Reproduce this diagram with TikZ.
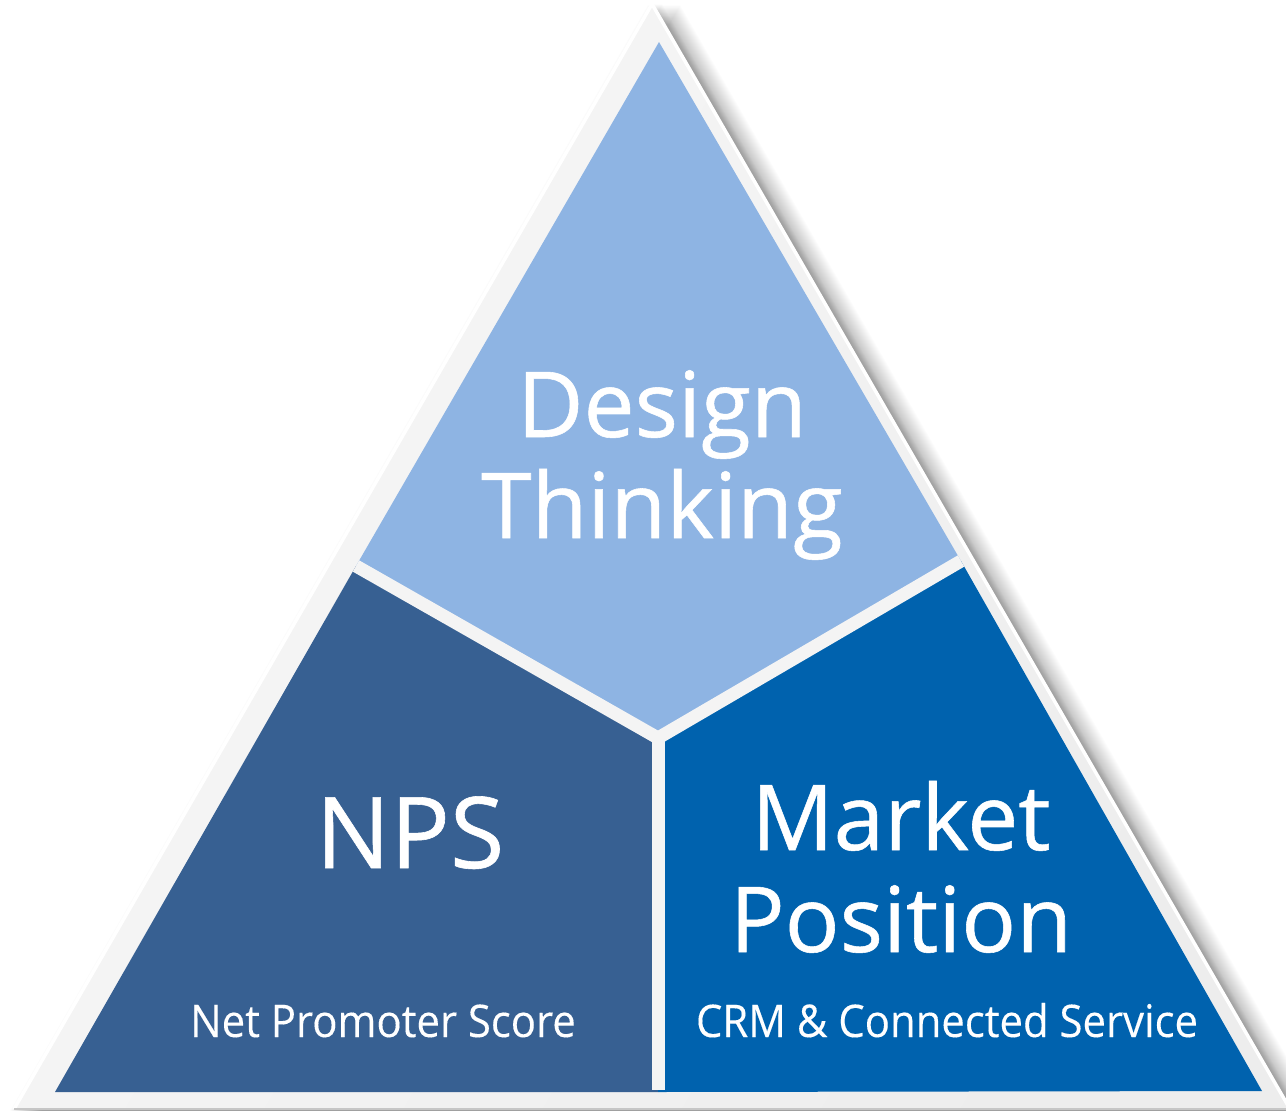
\documentclass[tikz,border=0pt]{standalone}
\usepackage{fontspec}
\setmainfont{Open Sans}
\newfontfamily\bigfont[FakeBold=0.6]{Open Sans}
\newfontfamily\smallfont[FakeStretch=0.93,FakeBold=0.2]{Open Sans}
\definecolor{cTop}{RGB}{142,180,227}
\definecolor{cLeft}{RGB}{55,96,146}
\definecolor{cRight}{RGB}{0,98,174}
\definecolor{cBand}{RGB}{237,237,237}
\definecolor{cBandL}{RGB}{247,247,247}
\definecolor{cGap}{RGB}{244,244,244}
\tikzset{
  divider/.style={draw=cGap,line width=13pt,line cap=butt},
  bigtxt/.style={text=white,inner sep=0pt,anchor=base,font=\bigfont\fontsize{91}{100}\selectfont},
  smalltxt/.style={text=white,inner sep=0pt,anchor=base,font=\smallfont\fontsize{45}{50}\selectfont},
}
\begin{document}
\begin{tikzpicture}[x=1pt,y=-1pt]
\useasboundingbox (0,0) rectangle (1286,1112);
\fill[white] (0,0) rectangle (1286,1112);
% outer triangle coordinates
\coordinate (OA) at (652,4);
\coordinate (OL) at (14,1109);
\coordinate (OR) at (1290,1109);
% shadow
\foreach \s in {-4,...,28}{
  \fill[black,opacity=0.010] ([shift={(\s,1)}]OA) -- ([shift={(\s,2)}]OR) -- ([shift={(\s,2)}]OL) -- cycle;
}
\foreach \s in {0,...,10}{
  \fill[black,opacity=0.012] ([shift={(\s,0)}]OA) -- ([shift={(\s,1)}]OR) -- ([shift={(\s,1)}]OL) -- cycle;
}
% outer band
\shade[left color=cBandL, right color=cBand, shading angle=60] (OA) -- (OR) -- (OL) -- cycle;
\draw[white,line width=3.5pt] (OA) -- (OR) (OA) -- (OL);
\draw[gray!45,line width=1.5pt] (OL) -- (OR);
% inner triangle
\coordinate (A) at (659,42);
\coordinate (BL) at (55,1092);
\coordinate (BR) at (1262,1091);
\coordinate (C) at (658,738);
\coordinate (ML) at (356,566);
\coordinate (MR) at (961,561);
\coordinate (MB) at (658,1092);
\fill[cTop] (A) -- (MR) -- (C) -- (ML) -- cycle;
\fill[cLeft] (ML) -- (C) -- (MB) -- (BL) -- cycle;
\fill[cRight] (MR) -- (BR) -- (MB) -- (C) -- cycle;
\draw[divider] (ML) -- (C) -- (MR);
\draw[divider] (C) -- ([yshift=2pt]MB);
% texts
\node[bigtxt] (d1) at (662,437) {Design};
\node[bigtxt] (d2) at (662,538) {Thinking};
\node[bigtxt,font=\bigfont\fontsize{99}{110}\selectfont] (nps) at (410,868) {NPS};
\node[bigtxt] (m1) at (901,850) {Market};
\node[bigtxt] (m2) at (901,952) {Position};
\node[smalltxt] (s1) at (383,1037) {Net Promoter Score};
\node[smalltxt] (s2) at (947,1037) {CRM \& Connected Service};
\end{tikzpicture}
\end{document}
